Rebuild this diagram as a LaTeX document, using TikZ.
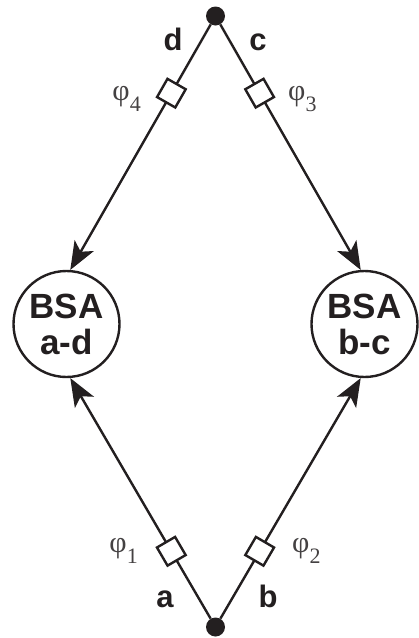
\documentclass[tikz,border=0pt]{standalone}
\usepackage{fontspec}
\setmainfont{Liberation Serif}
\newfontfamily\hv{Liberation Sans}
\usetikzlibrary{arrows.meta}
\definecolor{ink}{HTML}{231F20}
\begin{document}
\begin{tikzpicture}[x=1pt,y=-1pt,
  dot/.style={circle,fill=ink,inner sep=0pt,minimum size=19pt},
  bsa/.style={circle,draw=ink,line width=2.4pt,minimum size=106pt,inner sep=0pt,
    font=\hv\bfseries\fontsize{35}{38}\selectfont,text=ink,align=center},
  conn/.style={draw=ink,line width=2.4pt,-{Stealth[length=28pt,width=22pt,inset=7pt]}},
  sq/.style={draw=ink,fill=white,line width=2.4pt,minimum size=21pt,inner sep=0pt,sloped},
  lab/.style={font=\hv\bfseries\fontsize{31}{31}\selectfont,text=ink,inner sep=0pt,anchor=base},
  phi/.style={font=\fontsize{30}{30}\selectfont,text=ink!85,inner sep=0pt}
]
\useasboundingbox (0,0) rectangle (419,638);
\node[dot] (top) at (215.5,16) {};
\node[dot] (bot) at (215.5,627) {};
\node[bsa] (ad) at (66.5,324) {BSA\\[-2pt]a-d};
\node[bsa] (bc) at (364.5,324) {BSA\\[-2pt]b-c};
\path[conn] (top) -- node[sq,pos=0.28] (s4) {} (ad.86);
\path[conn] (top) -- node[sq,pos=0.28] (s3) {} (bc.94);
\path[conn] (bot) -- node[sq,pos=0.28] (s1) {} (ad.274);
\path[conn] (bot) -- node[sq,pos=0.28] (s2) {} (bc.266);
\node[lab] (ld) at (173,50) {d};
\node[lab] (lc) at (258,50) {c};
\node[lab] (la) at (165,607) {a};
\node[lab] (lb) at (268,607) {b};
\newcommand{\mysub}[1]{\raisebox{-11pt}{\fontsize{22}{22}\selectfont #1}}
\node[phi,anchor=base east] (p4) at (141,100) {φ\mysub{4}};
\node[phi,anchor=base west] (p3) at (288,100) {φ\mysub{3}};
\node[phi,anchor=base east] (p1) at (138,552) {φ\mysub{1}};
\node[phi,anchor=base west] (p2) at (292,552) {φ\mysub{2}};
\end{tikzpicture}
\end{document}
